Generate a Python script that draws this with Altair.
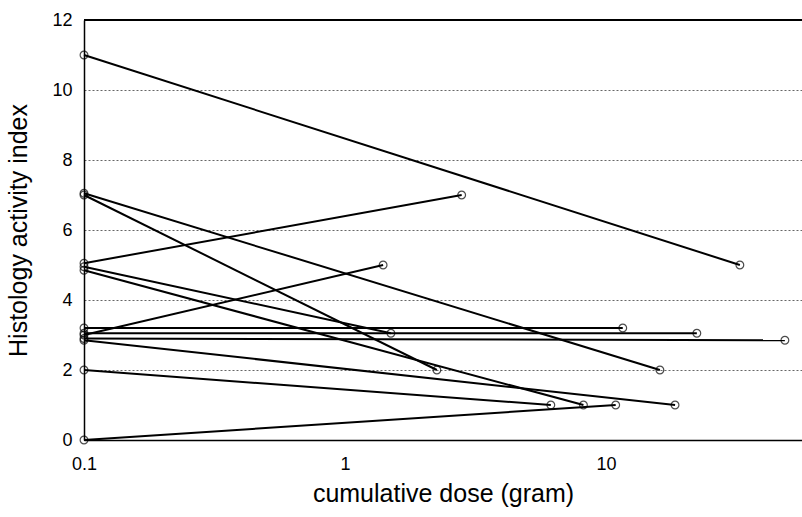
import altair as alt
import pandas as pd

# Each patient: index at the first biopsy (dose 0.1 g) and at the follow-up biopsy
patient = list(range(1, 14))
start_dose = [0.1] * 13
start_index = [11, 7.05, 7.0, 5.05, 4.95, 4.85, 3.2, 3.05, 3.0, 2.9, 2.85, 2, 0]
end_dose = [32.6, 16.1, 2.25, 2.8, 1.5, 8.2, 11.6, 22.3, 1.4, 48.5, 18.4, 6.15, 10.9]
end_index = [5, 2, 2, 7, 3.05, 1, 3.2, 3.05, 5, 2.85, 1, 1, 1]

rows = []
for p, x0, y0, x1, y1 in zip(patient, start_dose, start_index, end_dose, end_index):
    rows.append({"patient": p, "dose": x0, "hai": y0, "step": 0})
    rows.append({"patient": p, "dose": x1, "hai": y1, "step": 1})
df = pd.DataFrame(rows)

FONT = "Liberation Sans"

x_enc = alt.X(
    "dose:Q",
    scale=alt.Scale(type="log", domain=[0.1, 56.4], nice=False),
    axis=alt.Axis(
        values=[0.1, 1, 10], format="~g", title="cumulative dose (gram)",
        grid=False, ticks=False, domainColor="black", domainWidth=1.5,
        labelFontSize=18, labelColor="black", labelPadding=15, labelFlush=False,
        titleFontSize=25, titleFontWeight="normal", titleColor="black", titlePadding=8,
    ),
)
y_enc = alt.Y(
    "hai:Q",
    scale=alt.Scale(domain=[0, 12], nice=False),
    axis=alt.Axis(
        values=[0, 2, 4, 6, 8, 10, 12], title="Histology activity index",
        grid=True, gridColor="#666666", gridDash=[2, 2], gridWidth=1,
        ticks=False, domainColor="black", domainWidth=1.5,
        labelFontSize=18, labelColor="black", labelPadding=12,
        titleFontSize=25, titleFontWeight="normal", titleColor="black", titlePadding=20,
    ),
)

base = alt.Chart(df)

lines = base.mark_line(color="black", strokeWidth=2).encode(
    x=x_enc, y=y_enc, detail="patient:N", order="step:Q"
)
points = base.mark_point(
    shape="circle", filled=False, color="black", size=60, strokeWidth=1.2
).encode(x="dose:Q", y="hai:Q")

top_border = base.mark_rule(color="black", strokeWidth=1.5).encode(y=alt.datum(12))

chart = (
    alt.layer(top_border, lines, points)
    .properties(
        width=718,
        height=420,
        autosize=alt.AutoSizeParams(type="none"),
        padding={"left": 84, "top": 20, "right": 0, "bottom": 77},
    )
    .configure_view(stroke=None)
    .configure(font=FONT)
    .configure_axis(labelFont=FONT, titleFont=FONT)
)

chart.save("out.html", embed_options={"renderer": "svg", "actions": False})
